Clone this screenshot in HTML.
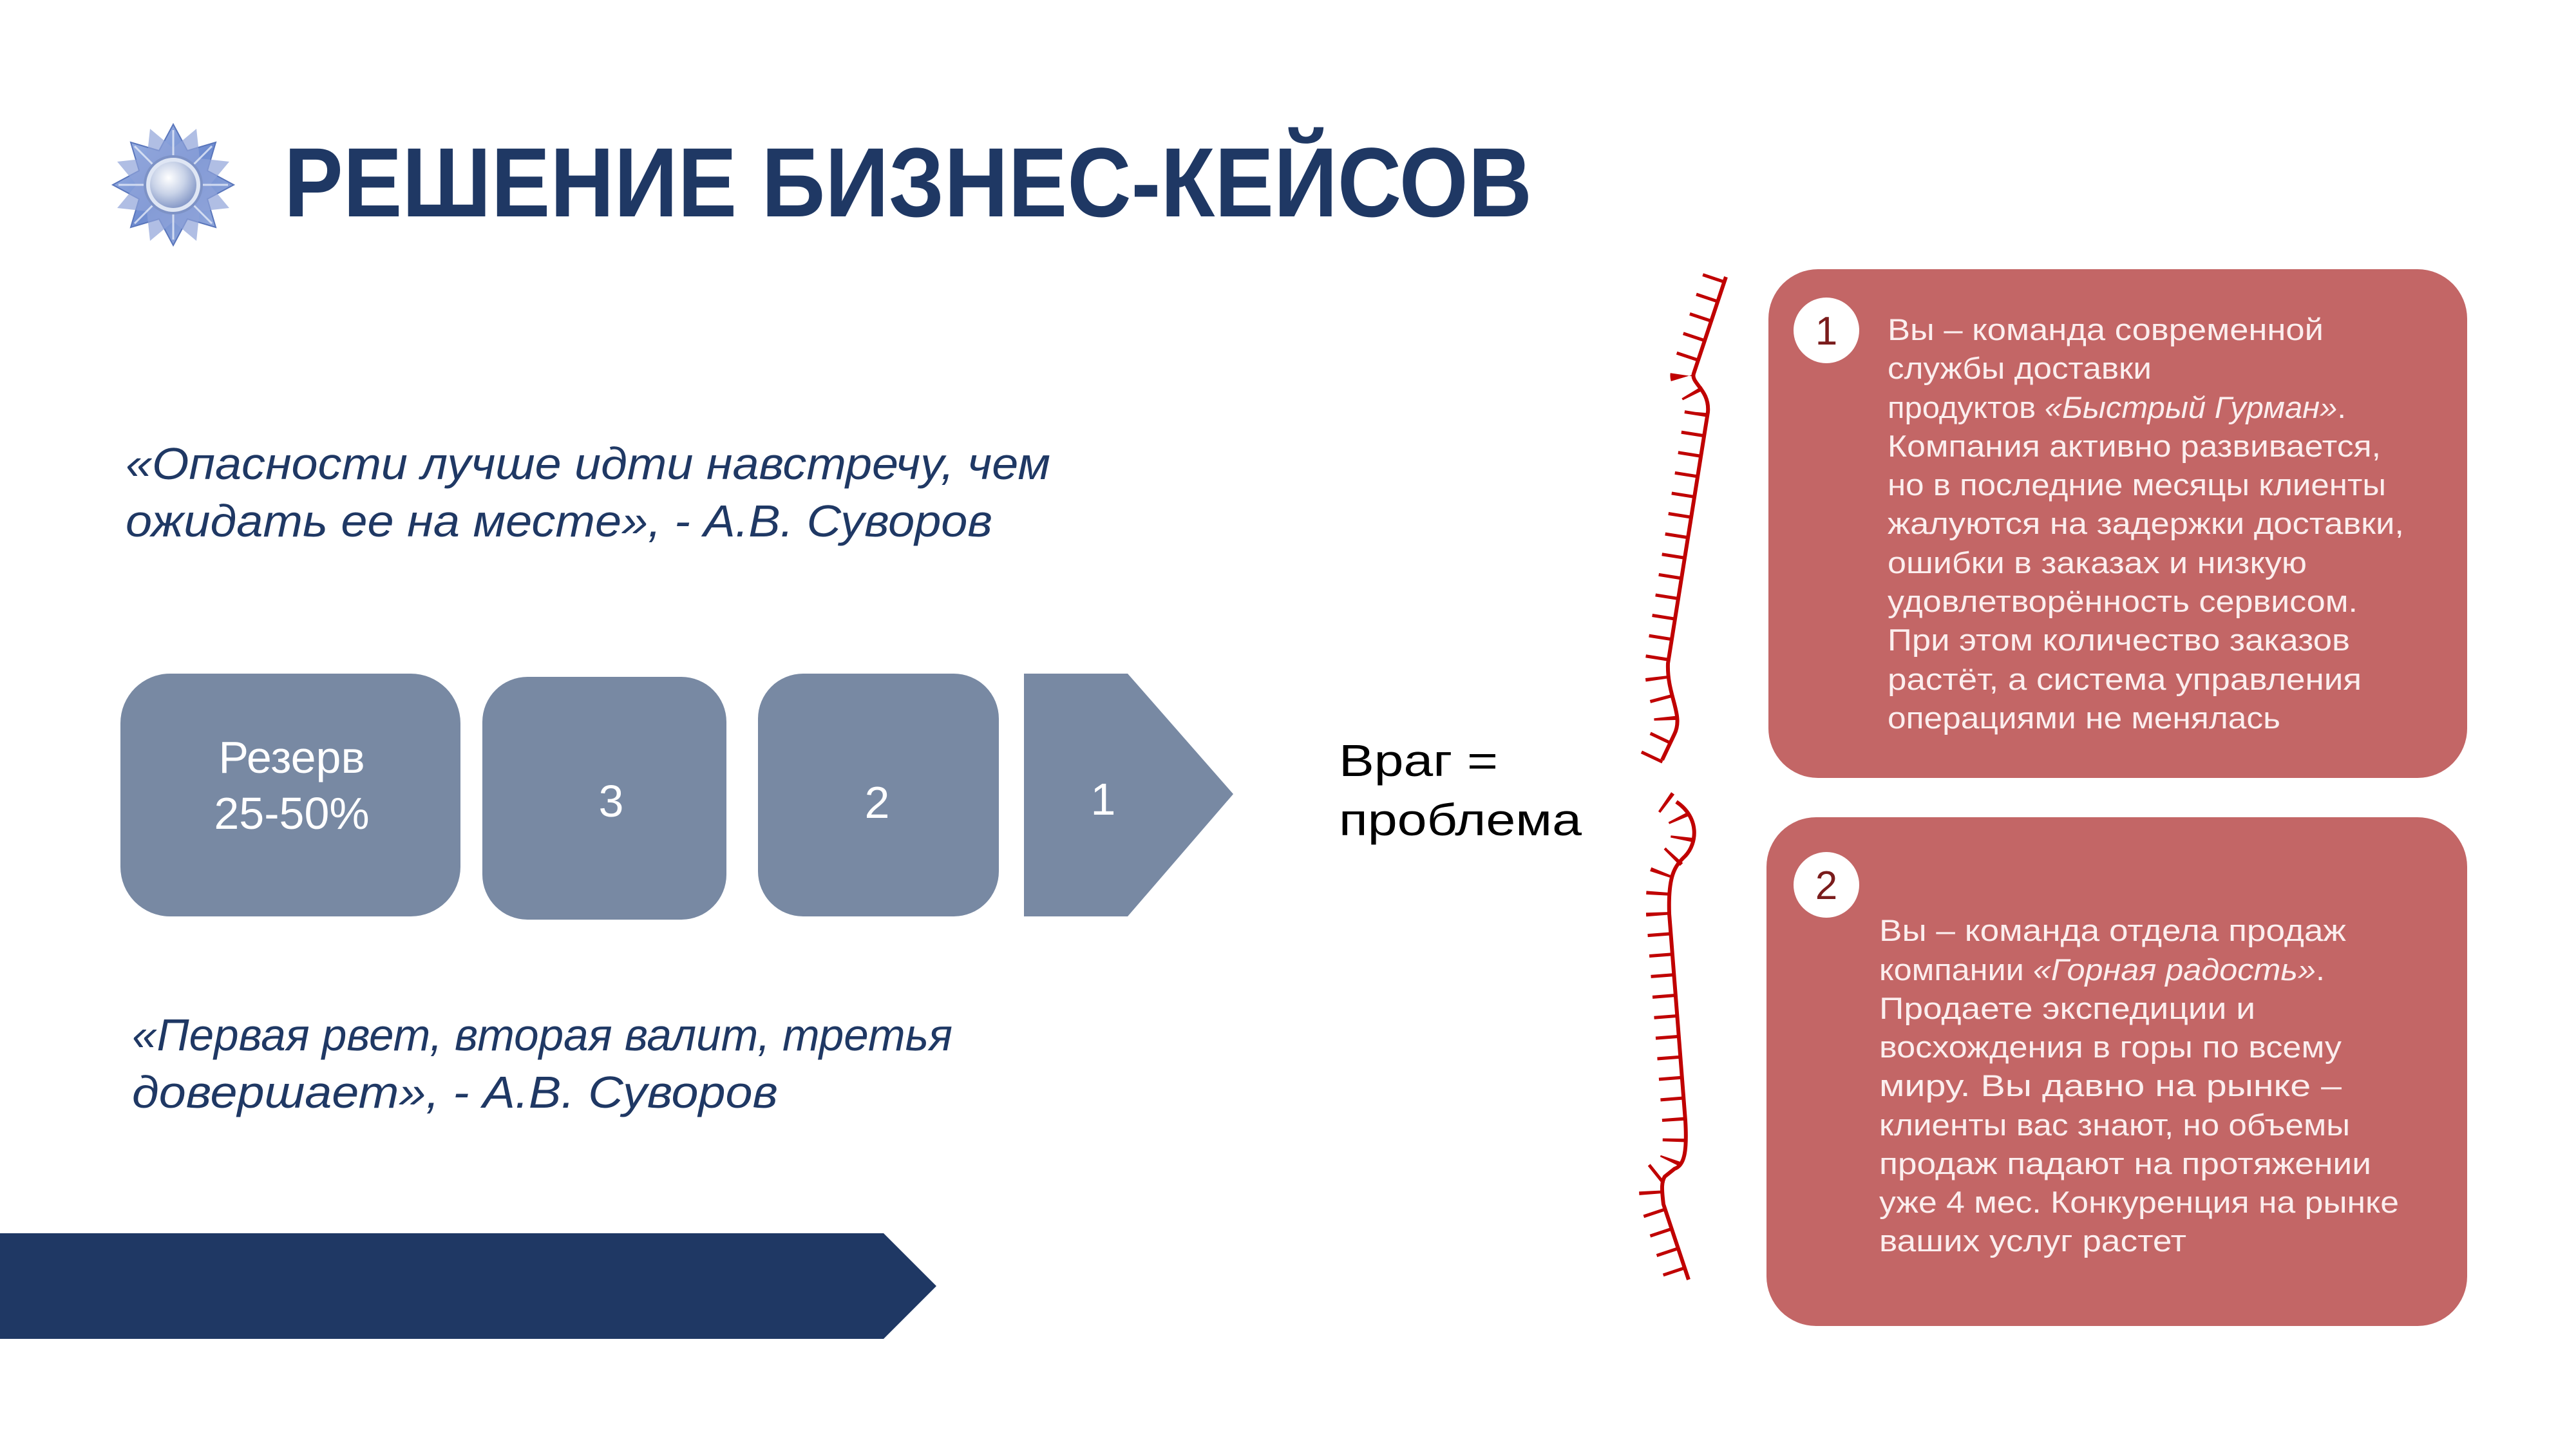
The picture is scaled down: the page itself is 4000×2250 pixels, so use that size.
<!DOCTYPE html>
<html><head><meta charset="utf-8"><style>
html,body{margin:0;padding:0;background:#fff;}
svg{display:block;}
text{font-family:"Liberation Sans",sans-serif;}
</style></head><body>
<svg width="4000" height="2250" viewBox="0 0 4000 2250" xmlns="http://www.w3.org/2000/svg">
<defs>
<radialGradient id="sph" cx="0.4" cy="0.35" r="0.7">
<stop offset="0" stop-color="#ffffff"/><stop offset="0.5" stop-color="#c9d3e8"/><stop offset="1" stop-color="#7f93c4"/>
</radialGradient>
<linearGradient id="st" x1="0" y1="0" x2="1" y2="1">
<stop offset="0" stop-color="#a9bde8"/><stop offset="0.5" stop-color="#6f8cd0"/><stop offset="1" stop-color="#9fb3e0"/>
</linearGradient>
</defs>
<!-- logo -->
<g transform="translate(269,287)">
<polygon fill="url(#st)" stroke="#5a76bb" stroke-width="2" points="0,-94 22,-53 66,-66 53,-22 94,0 53,22 66,66 22,53 0,94 -22,53 -66,66 -53,22 -94,0 -53,-22 -66,-66 -22,-53"/>
<polygon fill="#8ea3d8" opacity="0.7" points="36,-87 41,-41 87,-36 57,0 87,36 41,41 36,87 0,57 -36,87 -41,41 -87,36 -57,0 -87,-36 -41,-41 -36,-87 0,-57"/>
<g stroke="#e6ecf8" stroke-width="3" opacity="0.8">
<line x1="0" y1="-45" x2="0" y2="-85"/><line x1="0" y1="45" x2="0" y2="85"/><line x1="-45" y1="0" x2="-85" y2="0"/><line x1="45" y1="0" x2="85" y2="0"/>
<line x1="32" y1="-32" x2="60" y2="-60"/><line x1="-32" y1="-32" x2="-60" y2="-60"/><line x1="32" y1="32" x2="60" y2="60"/><line x1="-32" y1="32" x2="-60" y2="60"/>
</g>
<circle r="44" fill="#dfe6f4" stroke="#7d92c6" stroke-width="4"/>
<circle r="36" fill="url(#sph)"/>
</g>
<!-- title -->
<text x="441" y="336" font-size="153" font-weight="bold" fill="#1f3864" textLength="1938" lengthAdjust="spacingAndGlyphs">РЕШЕНИЕ БИЗНЕС-КЕЙСОВ</text>
<!-- quotes -->
<g font-size="70" font-style="italic" fill="#1f3864">
<text x="195" y="744" textLength="1436" lengthAdjust="spacingAndGlyphs">«Опасности лучше идти навстречу, чем</text>
<text x="195" y="833" textLength="1346" lengthAdjust="spacingAndGlyphs">ожидать ее на месте», - А.В. Суворов</text>
<text x="205" y="1631" textLength="1274" lengthAdjust="spacingAndGlyphs">«Первая рвет, вторая валит, третья</text>
<text x="205" y="1720" textLength="1003" lengthAdjust="spacingAndGlyphs">довершает», - А.В. Суворов</text>
</g>
<!-- process boxes -->
<g fill="#7889a3">
<rect x="187" y="1046" width="528" height="377" rx="77"/>
<rect x="749" y="1051" width="379" height="377" rx="70"/>
<rect x="1177" y="1046" width="374" height="377" rx="70"/>
<polygon points="1590,1046 1751,1046 1915,1233 1751,1423 1590,1423"/>
</g>
<g fill="#ffffff" font-size="70" text-anchor="middle">
<text x="453" y="1200">Резерв</text>
<text x="453" y="1287">25-50%</text>
<text x="949" y="1268">3</text>
<text x="1362" y="1270">2</text>
<text x="1713" y="1265">1</text>
</g>
<g font-size="70" fill="#000">
<text x="2079" y="1205" textLength="247" lengthAdjust="spacingAndGlyphs">Враг =</text>
<text x="2079" y="1297" textLength="377" lengthAdjust="spacingAndGlyphs">проблема</text>
</g>
<!-- banner -->
<polygon fill="#1f3864" points="0,1915 1372,1915 1454,1997 1372,2079 0,2079"/>
<!-- braces -->
<g fill="none" stroke="#c00000">
<path stroke-width="6" d="M2680,430 L2630,580 C2625,595 2655,605 2652,640 L2590,1030 C2588,1080 2615,1110 2600,1140 L2581,1180"/>
<path transform="translate(-18,0)" stroke-width="36" stroke-dasharray="5 27" d="M2680,430 L2630,580 C2625,595 2655,605 2652,640 L2590,1030 C2588,1080 2615,1110 2600,1140 L2581,1180"/>
<path stroke-width="6" d="M2603,1245 C2640,1270 2635,1310 2617,1329 C2600,1345 2590,1360 2592,1419 L2617,1740 C2620,1790 2615,1810 2600,1815 L2585,1827 C2580,1835 2580,1845 2583,1870 L2622,1987"/>
<path transform="translate(-18,0)" stroke-width="36" stroke-dasharray="5 27" d="M2603,1245 C2640,1270 2635,1310 2617,1329 C2600,1345 2590,1360 2592,1419 L2617,1740 C2620,1790 2615,1810 2600,1815 L2585,1827 C2580,1835 2580,1845 2583,1870 L2622,1987"/>
</g>
<!-- cards -->
<rect x="2746" y="418" width="1085" height="790" rx="77" fill="#c36666"/>
<rect x="2743" y="1269" width="1088" height="790" rx="77" fill="#c36666"/>
<circle cx="2836" cy="513" r="51" fill="#fff"/>
<circle cx="2836" cy="1374" r="51" fill="#fff"/>
<g font-size="62" fill="#7a1c1c" text-anchor="middle">
<text x="2836" y="535">1</text>
<text x="2836" y="1396">2</text>
</g>
<g font-size="47" fill="#fbeeee" lengthAdjust="spacingAndGlyphs">
<text x="2931" y="528" textLength="677" lengthAdjust="spacingAndGlyphs">Вы – команда современной</text>
<text x="2931" y="588" textLength="410" lengthAdjust="spacingAndGlyphs">службы доставки</text>
<text x="2931" y="649" textLength="712" lengthAdjust="spacingAndGlyphs">продуктов <tspan font-style="italic">«Быстрый Гурман»</tspan>.</text>
<text x="2931" y="709" textLength="766" lengthAdjust="spacingAndGlyphs">Компания активно развивается,</text>
<text x="2931" y="769" textLength="774" lengthAdjust="spacingAndGlyphs">но в последние месяцы клиенты</text>
<text x="2931" y="829" textLength="802" lengthAdjust="spacingAndGlyphs">жалуются на задержки доставки,</text>
<text x="2931" y="890" textLength="651" lengthAdjust="spacingAndGlyphs">ошибки в заказах и низкую</text>
<text x="2931" y="950" textLength="730" lengthAdjust="spacingAndGlyphs">удовлетворённость сервисом.</text>
<text x="2931" y="1010" textLength="718" lengthAdjust="spacingAndGlyphs">При этом количество заказов</text>
<text x="2931" y="1071" textLength="736" lengthAdjust="spacingAndGlyphs">растёт, а система управления</text>
<text x="2931" y="1131" textLength="610" lengthAdjust="spacingAndGlyphs">операциями не менялась</text>

<text x="2918" y="1461" textLength="725" lengthAdjust="spacingAndGlyphs">Вы – команда отдела продаж</text>
<text x="2918" y="1522" textLength="692" lengthAdjust="spacingAndGlyphs">компании <tspan font-style="italic">«Горная радость»</tspan>.</text>
<text x="2918" y="1582" textLength="584" lengthAdjust="spacingAndGlyphs">Продаете экспедиции и</text>
<text x="2918" y="1642" textLength="718" lengthAdjust="spacingAndGlyphs">восхождения в горы по всему</text>
<text x="2918" y="1702" textLength="718" lengthAdjust="spacingAndGlyphs">миру. Вы давно на рынке –</text>
<text x="2918" y="1763" textLength="731" lengthAdjust="spacingAndGlyphs">клиенты вас знают, но объемы</text>
<text x="2918" y="1823" textLength="764" lengthAdjust="spacingAndGlyphs">продаж падают на протяжении</text>
<text x="2918" y="1883" textLength="807" lengthAdjust="spacingAndGlyphs">уже 4 мес. Конкуренция на рынке</text>
<text x="2918" y="1943" textLength="477" lengthAdjust="spacingAndGlyphs">ваших услуг растет</text>
</g>
</svg>
</body></html>
